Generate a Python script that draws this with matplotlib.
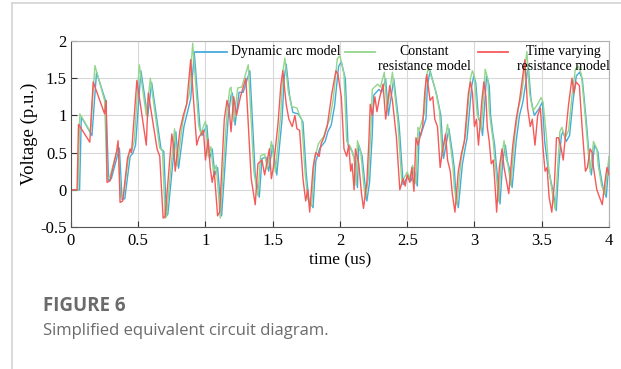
import matplotlib
matplotlib.use('Agg')
import matplotlib.pyplot as mpl
from matplotlib.lines import Line2D

# Dynamic arc model (blue)
blue_t = [0, 0.064, 0.077, 0.156, 0.19, 0.26, 0.28, 0.30, 0.36, 0.38, 0.40, 0.44,
          0.46, 0.48, 0.52, 0.57, 0.60, 0.67, 0.69, 0.71, 0.72, 0.78, 0.80, 0.84,
          0.86, 0.89, 0.917, 0.96, 0.975, 1.01, 1.03, 1.05, 1.07, 1.09, 1.12, 1.17,
          1.19, 1.20, 1.22, 1.25, 1.28, 1.33, 1.37, 1.40, 1.42, 1.45, 1.47, 1.50,
          1.53, 1.57, 1.585, 1.60, 1.625, 1.65, 1.69, 1.71, 1.725, 1.75, 1.77, 1.80,
          1.82, 1.85, 1.89, 1.91, 1.935, 1.96, 1.99, 2.01, 2.04, 2.06, 2.09, 2.115,
          2.13, 2.14, 2.165, 2.19, 2.20, 2.22, 2.24, 2.25, 2.29, 2.31, 2.34, 2.36,
          2.40, 2.44, 2.47, 2.51, 2.53, 2.55, 2.575, 2.59, 2.60, 2.64, 2.65, 2.67,
          2.70, 2.72, 2.75, 2.77, 2.81, 2.835, 2.85, 2.86, 2.88, 2.91, 2.935, 2.945,
          2.98, 2.995, 3.01, 3.03, 3.05, 3.06, 3.08, 3.09, 3.11, 3.12, 3.135, 3.15,
          3.16, 3.175, 3.19, 3.21, 3.23, 3.245, 3.26, 3.28, 3.31, 3.335, 3.36, 3.40,
          3.42, 3.445, 3.48, 3.505, 3.522, 3.547, 3.559, 3.584, 3.608, 3.626, 3.646,
          3.658, 3.683, 3.707, 3.732, 3.757, 3.782, 3.802, 3.832, 3.856, 3.869,
          3.893, 3.918, 3.93, 3.955, 3.98, 4.0]
blue_v = [0, 0, 0.98, 0.73, 1.58, 1.18, 0.12, 0.15, 0.56, -0.13, -0.12, 0.45,
          0.49, 0.6, 1.6, 0.98, 1.44, 0.54, 0.52, -0.35, -0.33, 0.78, 0.29, 0.85,
          1.0, 1.22, 1.84, 0.82, 0.73, 0.87, 0.42, 0.55, 0.2, 0.3, -0.35, 1.0,
          1.27, 1.3, 0.87, 1.31, 1.31, 1.6, 0.2, -0.1, 0.42, 0.44, 0.25, 0.6,
          0.2, 0.96, 1.49, 1.69, 1.27, 1.04, 1.02, 0.96, 0.91, 0.2, -0.15, -0.24,
          0.38, 0.56, 0.65, 0.78, 0.87, 1.13, 1.66, 1.72, 1.49, 0.6, 0.52, 0.38,
          0.03, 0.6, 0.45, 0.0, -0.15, 0.1, 0.73, 1.27, 1.35, 1.31, 1.49, 1.0,
          1.49, 0.87, 0.07, 0.2, 0.12, 0.29, 0.05, 0.78, 0.73, 0.96, 1.4, 1.6,
          1.4, 1.27, 1.0, 0.42, 0.82, 0.51, 0.29, 0.0, -0.24, 0.34, 0.6, 0.69,
          1.4, 1.53, 1.44, 0.96, 0.87, 0.73, 1.27, 1.53, 1.4, 1.0, 0.78, 0.6,
          0.38, 0.11, -0.19, 0.38, 0.6, 0.38, 0.29, 0.03, 0.65, 1.0, 1.18, 1.66,
          1.22, 1.0, 1.09, 1.18, 0.65, 0.29, 0.2, -0.02, -0.28, 0.29, 0.73,
          0.78, 0.65, 0.73, 1.18, 1.53, 1.58, 1.49, 0.91, 0.38, 0.2,
          0.6, 0.51, 0.29, 0.03, -0.1, 0.38]

# Constant resistance model (green)
green_t = [0, 0.052, 0.066, 0.145, 0.178, 0.25, 0.268, 0.29, 0.35, 0.37, 0.39, 0.43,
           0.45, 0.47, 0.508, 0.56, 0.59, 0.66, 0.68, 0.70, 0.71, 0.77, 0.79, 0.83,
           0.85, 0.88, 0.905, 0.95, 0.965, 1.0, 1.02, 1.04, 1.06, 1.08, 1.11, 1.16,
           1.18, 1.19, 1.21, 1.24, 1.27, 1.318, 1.36, 1.39, 1.41, 1.44, 1.46, 1.49,
           1.52, 1.56, 1.575, 1.59, 1.615, 1.64, 1.68, 1.70, 1.715, 1.74, 1.76, 1.79,
           1.81, 1.84, 1.88, 1.90, 1.925, 1.95, 1.98, 2.0, 2.03, 2.05, 2.08, 2.105,
           2.12, 2.13, 2.155, 2.18, 2.19, 2.21, 2.23, 2.24, 2.28, 2.30, 2.33, 2.35,
           2.39, 2.43, 2.46, 2.50, 2.52, 2.54, 2.565, 2.58, 2.59, 2.63, 2.64, 2.658,
           2.69, 2.71, 2.74, 2.76, 2.80, 2.825, 2.84, 2.85, 2.87, 2.90, 2.925, 2.935,
           2.97, 2.985, 3.0, 3.02, 3.04, 3.05, 3.07, 3.08, 3.10, 3.11, 3.125, 3.14,
           3.15, 3.165, 3.18, 3.20, 3.22, 3.235, 3.25, 3.27, 3.30, 3.325, 3.35, 3.39,
           3.41, 3.435, 3.47, 3.495, 3.51, 3.535, 3.55, 3.575, 3.60, 3.62, 3.635,
           3.65, 3.675, 3.70, 3.725, 3.75, 3.775, 3.795, 3.825, 3.85, 3.86,
           3.885, 3.91, 3.92, 3.945, 3.97, 4.0]
green_v = [0, 0, 1.02, 0.78, 1.67, 1.2, 0.14, 0.18, 0.58, -0.1, -0.1, 0.48,
           0.52, 0.65, 1.68, 1.0, 1.5, 0.56, 0.54, -0.38, -0.36, 0.82, 0.32, 0.9,
           1.07, 1.3, 1.97, 0.86, 0.76, 0.92, 0.45, 0.58, 0.23, 0.33, -0.38, 1.05,
           1.35, 1.38, 0.92, 1.37, 1.38, 1.68, 0.24, -0.08, 0.46, 0.48, 0.28, 0.65,
           0.24, 1.02, 1.58, 1.77, 1.33, 1.12, 1.1, 1.0, 0.95, 0.24, -0.12, -0.22,
           0.42, 0.62, 0.72, 0.85, 0.95, 1.22, 1.76, 1.8, 1.55, 0.65, 0.57, 0.42,
           0.06, 0.66, 0.5, 0.02, -0.12, 0.14, 0.8, 1.35, 1.42, 1.38, 1.58, 1.05,
           1.58, 0.92, 0.1, 0.24, 0.15, 0.33, 0.08, 0.84, 0.8, 1.05, 1.5, 1.64,
           1.46, 1.34, 1.06, 0.46, 0.88, 0.55, 0.32, 0.03, -0.2, 0.4, 0.66, 0.75,
           1.5, 1.6, 1.52, 1.02, 0.93, 0.8, 1.35, 1.62, 1.48, 1.06, 0.84, 0.65,
           0.42, 0.14, -0.16, 0.42, 0.66, 0.42, 0.33, 0.06, 0.72, 1.08, 1.28, 1.86,
           1.3, 1.06, 1.15, 1.24, 1.18, 0.72, 0.32, 0.0, -0.26, 0.33, 0.78,
           0.84, 0.7, 0.8, 1.26, 1.62, 1.66, 1.55, 0.96, 0.42, 0.24,
           0.65, 0.55, 0.33, 0.06, -0.06, 0.45]

# Time varying resistance model (red)
red_t = [0, 0.045, 0.056, 0.14, 0.165, 0.25, 0.262, 0.268, 0.29, 0.34, 0.35, 0.355,
         0.365, 0.385, 0.42, 0.44, 0.45, 0.49, 0.54, 0.56, 0.575, 0.64, 0.66, 0.685,
         0.70, 0.75, 0.765, 0.775, 0.81, 0.835, 0.86, 0.89, 0.935, 0.95, 0.985, 1.0,
         1.02, 1.035, 1.05, 1.065, 1.09, 1.105, 1.14, 1.16, 1.175, 1.19, 1.21, 1.23,
         1.26, 1.30, 1.34, 1.37, 1.39, 1.42, 1.44, 1.475, 1.49, 1.505, 1.54, 1.56,
         1.575, 1.60, 1.62, 1.645, 1.665, 1.68, 1.70, 1.725, 1.745, 1.76, 1.775, 1.80,
         1.82, 1.845, 1.86, 1.88, 1.905, 1.94, 1.97, 1.985, 2.01, 2.03, 2.05, 2.065,
         2.08, 2.09, 2.105, 2.115, 2.14, 2.16, 2.175, 2.20, 2.215, 2.225, 2.24, 2.26,
         2.275, 2.29, 2.32, 2.34, 2.37, 2.39, 2.42, 2.445, 2.47, 2.485, 2.50, 2.52,
         2.535, 2.55, 2.565, 2.58, 2.615, 2.63, 2.645, 2.67, 2.69, 2.705, 2.725, 2.745,
         2.76, 2.785, 2.80, 2.82, 2.835, 2.855, 2.88, 2.905, 2.925, 2.955, 2.97, 2.985,
         3.0, 3.015, 3.03, 3.055, 3.07, 3.085, 3.095, 3.11, 3.125, 3.14, 3.155, 3.165,
         3.185, 3.205, 3.22, 3.235, 3.255, 3.285, 3.31, 3.335, 3.375, 3.395, 3.415, 3.43,
         3.45, 3.47, 3.49, 3.51, 3.525, 3.54, 3.555, 3.575, 3.595, 3.61, 3.625, 3.645,
         3.66, 3.675, 3.70, 3.725, 3.74, 3.755, 3.78, 3.80, 3.825, 3.84, 3.86, 3.875,
         3.885, 3.91, 3.93, 3.95, 3.97, 3.985, 4.0]
red_v = [0, 0, 0.88, 0.64, 1.45, 1.02, 1.2, 0.1, 0.12, 0.52, 0.66, 0.45,
         -0.17, -0.15, 0.42, 0.55, 0.5, 1.47, 0.85, 0.6, 1.3, 0.55, 0.45, -0.38,
         -0.36, 0.75, 0.55, 0.25, 0.8, 1.0, 1.15, 1.75, 0.6, 0.7, 0.8, 0.4,
         0.68, 0.3, 0.1, 0.25, -0.35, -0.3, 0.95, 1.2, 1.1, 0.78, 1.25, 1.0,
         1.25, 1.5, 0.15, -0.2, 0.35, 0.4, 0.2, 0.55, 0.15, 0.3, 0.9, 1.4,
         1.6, 1.15, 0.95, 0.85, 1.0, 0.82, 0.8, 0.15, -0.15, 0.0, -0.3, 0.3,
         0.5, 0.45, 0.62, 0.7, 0.85, 1.3, 1.6, 1.55, 1.25, 0.55, 0.45, 0.6,
         0.25, 0.35, 0.0, 0.55, 0.35, -0.05, -0.25, 0.1, 0.65, 1.15, 1.0, 1.25,
         1.05, 1.2, 1.42, 0.95, 1.4, 1.2, 0.7, 0.0, 0.15, 0.05, 0.2, 0.1,
         0.3, -0.02, 0.7, 0.6, 0.85, 1.3, 1.55, 1.2, 1.25, 0.95, 0.85, 0.3,
         0.5, 0.75, 0.4, 0.25, -0.05, -0.3, 0.25, 0.5, 0.65, 1.3, 1.45, 1.3,
         0.85, 0.95, 0.6, 1.2, 1.45, 1.25, 0.85, 0.65, 0.35, 0.4, 0.0, -0.3,
         0.3, 0.55, 0.3, 0.15, -0.05, 0.6, 0.95, 1.2, 1.75, 1.1, 0.85, 0.95,
         0.6, 1.0, 1.1, 0.55, 0.25, 0.3, -0.1, -0.3, 0.1, 0.7, 0.7, 0.55,
         0.4, 0.7, 1.15, 1.5, 1.3, 1.45, 1.4, 0.85, 0.25, 0.3, 0.55, 0.5,
         0.3, 0.0, -0.1, -0.2, 0.1, 0.3, 0.2]

labels = ['Dynamic arc model', 'Constant\nresistance model', 'Time varying\nresistance model']
colors = ['#45abdb', '#93d68c', '#f55a5a']
xticks = [0, 0.5, 1, 1.5, 2, 2.5, 3, 3.5, 4]
yticks = [-0.5, 0, 0.5, 1, 1.5, 2]

mpl.rcParams['font.family'] = ['Liberation Serif', 'DejaVu Serif']
mpl.rcParams['font.size'] = 10

fig = mpl.figure(figsize=(6.21, 3.69), dpi=100)
ax = fig.add_axes([0.1143, 0.3848, 0.8663, 0.5041])

ax.plot(blue_t, blue_v, color=colors[0], lw=1.0)
ax.plot(green_t, green_v, color=colors[1], lw=1.0)
ax.plot(red_t, red_v, color=colors[2], lw=1.0)

ax.set_xlim(0, 4)
ax.set_ylim(-0.5, 2)
ax.set_xticks(xticks)
ax.set_xticklabels(['0', '0.5', '1', '1.5', '2', '2.5', '3', '3.5', '4'])
ax.set_yticks(yticks)
ax.set_yticklabels(['-0.5', '0', '0.5', '1', '1.5', '2'])
ax.tick_params(direction='in', length=4, width=0.8, colors='#333333',
               labelcolor='black', labelsize=12, top=False, right=False)
ax.tick_params(axis='x', pad=4)
ax.tick_params(axis='y', pad=3)
ax.grid(color='#d8d8d8', lw=0.8)
ax.set_axisbelow(True)
for s in ['bottom', 'left']:
    ax.spines[s].set_color('#555555')
for s in ['top', 'right']:
    ax.spines[s].set_color('#b0b0b0')
ax.set_xlabel('time (us)', fontsize=12.5, labelpad=3)
ax.set_ylabel('Voltage (p.u.)', fontsize=13.5, labelpad=2)

# legend, MATLAB style: sample line next to the first text line, text centred
leg_line_x = [(0.2305, 0.290), (0.5093, 0.5651), (0.7565, 0.8123)]
leg_text_x = [0.2974, 0.6561, 0.9145]
leg_y = 0.941
for i in range(3):
    ax.plot(leg_line_x[i], [leg_y, leg_y], color=colors[i], lw=1.3,
            transform=ax.transAxes)
    if i == 0:
        ax.text(leg_text_x[i], leg_y, labels[i], transform=ax.transAxes,
                fontsize=10, ha='left', va='center')
    else:
        ax.text(leg_text_x[i], leg_y + 0.036, labels[i], transform=ax.transAxes,
                fontsize=10, ha='center', va='top', multialignment='center',
                linespacing=1.2)

# caption
fig.text(43 / 621, 1 - 306 / 369, 'FIGURE 6', family='Open Sans', weight='bold',
         fontsize=13.5, color='#6b6b6b', va='center')
fig.text(43 / 621, 1 - 331 / 369, 'Simplified equivalent circuit diagram.',
         family='Open Sans', fontsize=12, color='#6b6b6b', va='center')

# card border
fig.add_artist(Line2D([12 / 621, 1], [1 - 3 / 369, 1 - 3 / 369], color='#d4d4d4', lw=1.2))
fig.add_artist(Line2D([12 / 621, 12 / 621], [0, 1 - 3 / 369], color='#d4d4d4', lw=1.2))

mpl.savefig('out.png', dpi=100)
